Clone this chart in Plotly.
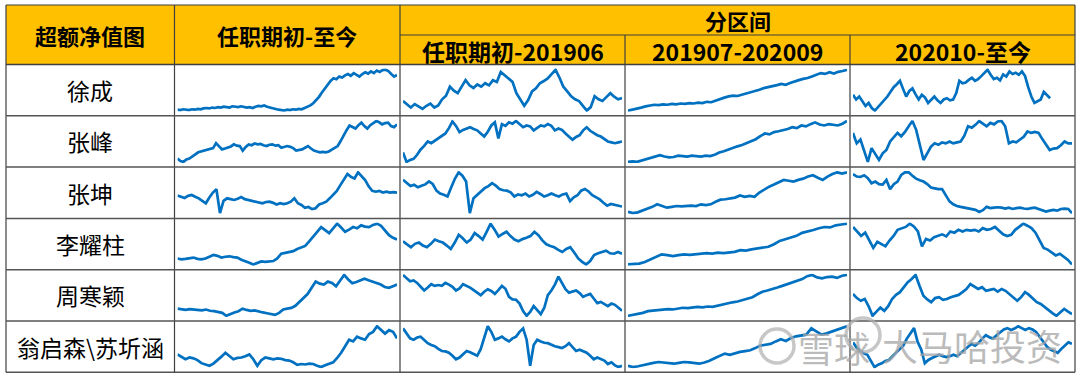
import plotly.graph_objects as go

W, H = 1080, 379

# ---------------- text ----------------
header_first = "超额净值图"
header_full = "任职期初-至今"
header_group = "分区间"
header_periods = ["任职期初-201906", "201907-202009", "202010-至今"]
managers = ["徐成", "张峰", "张坤", "李耀柱", "周寒颖", "翁启森\\苏圻涵"]
watermark_a = "雪球"
watermark_b = "大马哈投资"

# ---------------- data (relative excess NAV) ----------------
xu_cheng_full = [5,4,6,5,4,6,5,7,6,8,9,8,10,9,11,10,12,11,10,13,12,11,13,12,10,11,9,12,14,13,15,12,10,8,7,5,4,3,5,4,6,5,7,6,9,12,15,20,27,35,45,55,65,72,78,76,82,80,85,88,84,90,86,82,88,92,89,94,90,96,93,97,98,95,88,82,86]
xu_cheng_p1 = [26,18,11,19,14,8,15,20,11,16,30,38,59,50,44,58,74,62,56,64,59,67,62,74,70,93,85,78,70,44,30,15,28,48,55,67,72,78,88,98,80,59,48,37,30,26,15,4,12,37,30,26,35,44,36,30,33]
xu_cheng_p2 = [2,4,6,9,12,14,16,15,17,16,18,17,19,18,20,19,21,20,23,22,26,30,33,36,38,37,40,42,45,48,52,56,58,60,63,66,64,68,72,75,78,80,84,88,92,90,94,91,95,97,100]
xu_cheng_p3 = [41,30,37,25,15,22,10,4,12,19,28,37,48,59,66,74,55,37,50,56,42,30,41,35,22,30,37,28,22,30,33,28,30,45,74,68,70,76,81,74,78,85,92,100,88,78,81,75,89,84,96,90,93,88,96,85,59,37,22,26,30,48,40,33,
               None,None,None,None,None,None,None]

zhang_feng_full = [10,4,2,8,10,14,20,25,27,29,31,32,35,47,40,32,34,36,39,44,41,40,29,38,44,42,46,44,45,42,40,43,44,41,42,36,38,40,38,35,29,31,32,36,40,34,29,27,25,26,25,27,32,36,40,52,66,78,89,85,82,90,96,88,82,90,96,100,97,92,95,96,88,85,92]
zhang_feng_p1 = [25,4,8,11,20,32,40,50,46,52,57,62,68,80,95,85,71,76,79,82,78,75,68,61,72,86,93,57,89,85,93,90,96,88,82,86,84,75,80,86,84,89,85,75,79,76,68,62,54,60,64,75,82,74,68,64,61,55,50,48,46,48,50]
zhang_feng_p2 = [4,5,4,7,10,14,17,19,16,14,15,18,17,16,18,17,16,18,17,20,25,28,32,35,39,42,46,50,55,62,68,66,71,73,75,78,82,80,86,84,89,93,88,86,89,87,86,90,96]
zhang_feng_p3 = [68,46,54,30,7,36,22,11,25,32,50,60,68,61,70,82,93,75,46,11,25,39,46,43,48,46,50,46,48,50,62,82,79,85,93,88,82,89,86,92,93,82,46,50,48,54,60,71,68,70,68,55,43,32,35,36,42,50,46,46]

zhang_kun_full = [43,40,37,42,44,40,36,30,24,38,50,58,0,30,36,34,32,35,39,34,32,30,28,26,24,27,28,25,21,24,22,24,28,36,24,20,13,15,10,12,21,24,28,36,45,54,68,80,95,88,84,99,90,80,65,54,52,54,50,52,50,51,50]
zhang_kun_p1 = [80,72,65,68,62,66,69,76,70,54,47,44,40,62,83,98,90,76,0,36,44,51,60,65,72,66,58,55,54,50,40,45,43,47,40,44,51,46,40,43,47,43,40,45,47,29,38,43,54,58,52,43,38,33,25,18,22,20,18,16]
zhang_kun_p2 = [4,1,3,7,11,16,22,18,14,16,18,17,18,19,18,22,20,22,28,33,34,36,38,43,40,42,40,50,58,64,69,74,80,78,76,80,83,88,91,85,80,88,94,98,95,98]
zhang_kun_p3 = [94,88,87,91,84,72,76,70,69,80,58,70,76,92,98,98,90,83,79,76,70,62,60,58,58,45,29,22,18,16,14,13,11,9,4,8,16,13,14,15,14,12,14,11,13,14,12,11,13,14,11,8,5,7,9,7,11,12,11,1]

li_yaozhu_full = [18,16,17,19,20,17,16,18,22,26,24,20,22,23,21,20,15,12,8,4,8,11,10,11,12,18,29,31,33,35,40,43,47,58,69,80,91,84,77,88,99,90,80,85,91,88,95,92,91,96,99,94,84,72,66,62]
li_yaozhu_p1 = [58,50,44,52,55,48,44,52,62,58,55,48,40,55,73,65,55,62,77,70,62,80,99,85,69,75,80,70,62,58,63,66,70,80,72,60,51,47,44,38,33,40,44,32,18,10,4,12,26,30,33,36,30,29,33,29]
li_yaozhu_p2 = [2,3,4,8,14,20,26,24,22,24,26,25,26,28,29,28,30,29,30,32,36,35,38,40,42,44,50,58,62,66,70,77,80,84,88,91,90,95,97,99]
li_yaozhu_p3 = [91,80,69,77,58,40,55,50,44,58,69,84,88,91,99,92,80,44,62,58,66,70,73,68,80,77,84,80,84,82,84,80,88,84,86,91,82,73,69,72,84,92,99,94,88,77,60,40,36,30,22,26,18,11,0]

zhou_hanying_full = [18,16,15,17,16,15,14,16,13,12,10,8,1,6,9,12,18,15,13,14,11,9,7,5,3,8,16,18,20,25,35,45,53,68,83,78,76,83,80,72,85,99,88,79,82,87,90,86,83,80,76,70,68,72,76]
zhou_hanying_p1 = [98,90,83,85,79,70,61,68,76,72,74,72,79,75,70,61,66,76,72,68,62,55,50,58,64,60,53,62,72,65,46,40,39,30,12,1,10,24,15,5,20,50,61,75,94,80,64,56,58,61,55,46,50,53,42,31,34,28,24,30,27,20,13]
zhou_hanying_p2 = [1,3,5,8,12,13,15,16,17,16,18,20,19,21,22,21,23,22,25,27,30,33,35,38,42,45,52,58,61,64,68,72,76,80,83,88,95,98,92,90,93,94,91,96,98]
zhou_hanying_p3 = [57,48,42,46,30,9,18,27,20,30,46,55,61,72,83,90,99,75,53,45,39,48,50,44,46,50,53,55,61,68,79,74,68,72,64,66,68,62,68,64,57,50,42,50,61,55,48,39,35,28,20,15,9,16,24,18,13]

weng_su_full = [33,28,22,26,24,20,13,10,7,12,19,28,37,30,22,25,26,29,33,22,7,20,26,24,22,24,23,20,19,15,9,11,10,12,11,7,4,8,11,15,25,37,52,67,63,74,70,67,80,85,98,90,81,89,85,70]
weng_su_p1 = [93,80,70,67,72,74,66,59,55,52,46,41,40,37,30,22,26,33,41,38,33,30,45,74,98,85,67,70,74,68,63,70,74,85,93,67,7,55,67,63,60,59,55,52,50,48,52,59,50,41,44,40,37,30,22,26,22,19,11,15,8,4,7]
weng_su_p2 = [4,1,3,6,9,11,13,12,10,9,11,13,12,10,9,12,16,22,28,33,30,34,37,39,41,46,52,54,56,62,67,63,70,74,76,78,93,85,78,81,85,89,94,98]
weng_su_p3 = [59,48,41,36,33,20,7,12,15,20,22,30,37,44,52,67,78,89,60,44,15,22,26,30,33,30,28,30,33,30,36,44,50,56,52,58,67,74,70,67,74,81,86,89,85,88,93,89,85,89,86,81,70,59,50,44,40,37,45,52,59,56]

series_table = [
    [xu_cheng_full, xu_cheng_p1, xu_cheng_p2, xu_cheng_p3],
    [zhang_feng_full, zhang_feng_p1, zhang_feng_p2, zhang_feng_p3],
    [zhang_kun_full, zhang_kun_p1, zhang_kun_p2, zhang_kun_p3],
    [li_yaozhu_full, li_yaozhu_p1, li_yaozhu_p2, li_yaozhu_p3],
    [zhou_hanying_full, zhou_hanying_p1, zhou_hanying_p2, zhou_hanying_p3],
    [weng_su_full, weng_su_p1, weng_su_p2, weng_su_p3],
]

# ---------------- layout geometry (pixels) ----------------
col_edges = [6, 174.5, 400, 625, 850, 1075]
head_top, head_mid, head_bot = 5, 35, 64.5
row_edges = [64.5, 115.8, 167.1, 218.4, 269.7, 321.0, 372.3]

LINE_BLUE = "#0070C0"
HEAD_FILL = "#FFC000"
BORDER = "#3f3f3f"
CJK = "Noto Sans CJK SC"


def px(x):
    return x / W


def py(y):
    return 1 - y / H


fig = go.Figure()
layout = dict(
    width=W, height=H,
    margin=dict(l=0, r=0, t=0, b=0),
    paper_bgcolor="white", plot_bgcolor="white",
    showlegend=False,
)

k = 0
for r, row in enumerate(series_table):
    for c, vals in enumerate(row):
        k += 1
        n = len(vals)
        xs = [i / (n - 1) for i in range(n)]
        valid = [v for v in vals if v is not None]
        lo, hi = min(valid), max(valid)
        pad = (hi - lo) * 0.03
        suffix = "" if k == 1 else str(k)
        fig.add_trace(go.Scatter(
            x=xs, y=vals, mode="lines",
            line=dict(color=LINE_BLUE, width=2.7),
            xaxis="x" + suffix, yaxis="y" + suffix,
            hoverinfo="skip", connectgaps=False,
        ))
        x0, x1 = col_edges[c + 1] + 3, col_edges[c + 2] - 3
        y0, y1 = row_edges[r] + 4, row_edges[r + 1] - 4
        layout["xaxis" + suffix] = dict(domain=[px(x0), px(x1)], range=[0, 1],
                                        visible=False, fixedrange=True,
                                        anchor="y" + suffix)
        layout["yaxis" + suffix] = dict(domain=[py(y1), py(y0)], range=[lo - pad, hi + pad],
                                        visible=False, fixedrange=True,
                                        anchor="x" + suffix)

fig.update_layout(**layout)

shapes = []
# header fill
shapes.append(dict(type="rect", xref="paper", yref="paper",
                   x0=px(col_edges[0]), x1=px(col_edges[-1]), y0=py(head_bot), y1=py(head_top),
                   fillcolor=HEAD_FILL, line=dict(width=0), layer="below"))


def hline(y, xa, xb, color=BORDER, w=1.2):
    shapes.append(dict(type="line", xref="paper", yref="paper",
                       x0=px(xa), x1=px(xb), y0=py(y), y1=py(y),
                       line=dict(color=color, width=w)))


def vline(x, ya, yb, color=BORDER, w=1.2):
    shapes.append(dict(type="line", xref="paper", yref="paper",
                       x0=px(x), x1=px(x), y0=py(ya), y1=py(yb),
                       line=dict(color=color, width=w)))


# outer frame
hline(head_top, col_edges[0], col_edges[-1])
hline(row_edges[-1], col_edges[0], col_edges[-1], color="#555555", w=1.6)
vline(col_edges[0], head_top, row_edges[-1])
vline(col_edges[-1], head_top, row_edges[-1])
# inner verticals
vline(col_edges[1], head_top, row_edges[-1])
vline(col_edges[2], head_top, row_edges[-1])
vline(col_edges[3], head_mid, row_edges[-1])
vline(col_edges[4], head_mid, row_edges[-1])
# header split
hline(head_mid, col_edges[2], col_edges[-1])
# row lines
for i, y in enumerate(row_edges[:-1]):
    hline(y, col_edges[0], col_edges[-1], color="#555555" if i else BORDER, w=1.5)

# watermark icons
shapes.append(dict(type="circle", xref="paper", yref="paper",
                   x0=px(760), x1=px(794), y0=py(363), y1=py(329),
                   line=dict(color="rgba(175,175,175,0.7)", width=3.5)))
shapes.append(dict(type="circle", xref="paper", yref="paper",
                   x0=px(846), x1=px(880), y0=py(352), y1=py(318),
                   line=dict(color="rgba(175,175,175,0.7)", width=3.5)))
fig.update_layout(shapes=shapes)

ann = []


def text(x, y, s, size, bold=False, color="black"):
    ann.append(dict(xref="paper", yref="paper", x=px(x), y=py(y), text=("<b>%s</b>" % s) if bold else s,
                    showarrow=False, xanchor="center", yanchor="middle",
                    font=dict(family=CJK, size=size, color=color)))


text((col_edges[0] + col_edges[1]) / 2, (head_top + head_bot) / 2, header_first, 22, bold=True)
text((col_edges[1] + col_edges[2]) / 2, (head_top + head_bot) / 2, header_full, 22, bold=True)
text((col_edges[2] + col_edges[-1]) / 2, (head_top + head_mid) / 2, header_group, 22, bold=True)
for j, s in enumerate(header_periods):
    text((col_edges[2 + j] + col_edges[3 + j]) / 2, (head_mid + head_bot) / 2 + 1, s, 23, bold=True)
for i, name in enumerate(managers):
    text((col_edges[0] + col_edges[1]) / 2, (row_edges[i] + row_edges[i + 1]) / 2, name, 23)

text(834, 347, watermark_a, 36, color="rgba(165,165,165,0.75)")
text(972, 345, watermark_b, 36, color="rgba(165,165,165,0.75)")
fig.update_layout(annotations=ann)

fig.write_html("out.html", config={"displayModeBar": False},
               post_script="document.body.style.margin='0px';document.body.style.overflow='hidden';")
